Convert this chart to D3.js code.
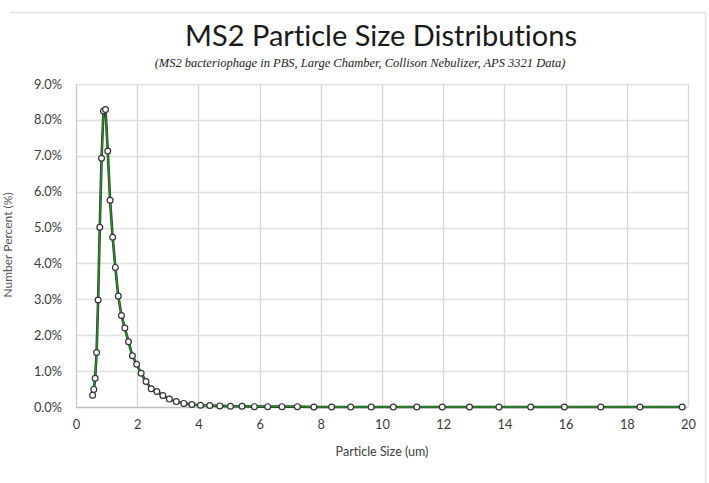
<!DOCTYPE html>
<html><head>
<meta charset="UTF-8">
<script src="https://cdn.jsdelivr.net/npm/d3@7/dist/d3.min.js"></script>
<style>
  body { margin:0; background:#fff; }
  svg { display:block; }
  text { font-variant-ligatures: none; }
  .tick text { font-family: Lato, 'Open Sans', sans-serif; font-size:12.8px; fill:#3a3a3a; }
</style>
</head><body>
<svg id="chart" width="709" height="483"></svg>
<script>
// APS 3321 channel midpoints (um) and number percent (%)
const sizes = [0.542, 0.583, 0.626, 0.673, 0.723, 0.777, 0.835, 0.898, 0.965, 1.037,
  1.114, 1.197, 1.286, 1.382, 1.486, 1.596, 1.715, 1.843, 1.981, 2.129,
  2.288, 2.458, 2.642, 2.839, 3.051, 3.278, 3.523, 3.786, 4.068, 4.371,
  4.698, 5.048, 5.425, 5.829, 6.264, 6.732, 7.234, 7.774, 8.354, 8.977,
  9.647, 10.37, 11.14, 11.97, 12.86, 13.82, 14.86, 15.96, 17.15, 18.43, 19.81];
const numberPct = [0.33, 0.49, 0.80, 1.52, 2.98, 5.01, 6.93, 8.25, 8.29, 7.13,
  5.76, 4.73, 3.89, 3.09, 2.55, 2.20, 1.82, 1.43, 1.19, 0.94,
  0.71, 0.51, 0.43, 0.32, 0.22, 0.15, 0.10, 0.07, 0.05, 0.04,
  0.03, 0.02, 0.02, 0.01, 0.01, 0.01, 0.01, 0.0, 0.0, 0.0,
  0.0, 0.0, 0.0, 0.0, 0.0, 0.0, 0.0, 0.0, 0.0, 0.0, 0.0];
const xTicks = [0, 2, 4, 6, 8, 10, 12, 14, 16, 18, 20];
const yTicks = [0, 1, 2, 3, 4, 5, 6, 7, 8, 9];

const titleText = 'MS2 Particle Size Distributions';
const subtitleText = '(MS2 bacteriophage in PBS, Large Chamber, Collison Nebulizer, APS 3321 Data)';

const svg = d3.select('#chart');
const M = { left: 76, right: 688, top: 84, bottom: 407 };

const x = d3.scaleLinear().domain([0, 20]).range([M.left, M.right]);
const y = d3.scaleLinear().domain([0, 9]).range([M.bottom, M.top]);

// outer chart frame (top + right edge visible)
svg.append('path')
  .attr('d', 'M10,12.5H705.5V483')
  .attr('fill', 'none').attr('stroke', '#e2e2e2').attr('stroke-width', 1.5);

// grid
const grid = svg.append('g');
grid.selectAll('line.h').data(yTicks).join('line')
  .attr('x1', M.left).attr('x2', M.right)
  .attr('y1', d => Math.round(y(d)) + 0.5).attr('y2', d => Math.round(y(d)) + 0.5)
  .attr('stroke', d => d === 0 ? '#bfbfbf' : '#e0e0e0').attr('stroke-width', 1.3);
grid.selectAll('line.v').data(xTicks).join('line')
  .attr('y1', M.top).attr('y2', M.bottom)
  .attr('x1', d => Math.round(x(d)) + 0.5).attr('x2', d => Math.round(x(d)) + 0.5)
  .attr('stroke', d => d === 0 ? '#c8c8c8' : '#d6d6d6').attr('stroke-width', 1.3);

// axes (labels only)
const xAxis = svg.append('g').attr('transform', `translate(0,${M.bottom})`)
  .call(d3.axisBottom(x).tickValues(xTicks).tickSize(0).tickPadding(13).tickFormat(d3.format('d')));
xAxis.select('.domain').remove();
const yAxis = svg.append('g').attr('transform', `translate(${M.left},0)`)
  .call(d3.axisLeft(y).tickValues(yTicks).tickSize(0).tickPadding(14).tickFormat(d => d.toFixed(1) + '%'));
yAxis.select('.domain').remove();

// series
const pts = sizes.map((s, i) => [s, numberPct[i]]);
svg.append('path').datum(pts)
  .attr('fill', 'none').attr('stroke', '#1d3d1d').attr('stroke-width', 2.6)
  .attr('d', d3.line().x(d => x(d[0])).y(d => y(d[1])));
svg.append('path').datum(pts)
  .attr('fill', 'none').attr('stroke', '#2e8b2e').attr('stroke-width', 1.4)
  .attr('d', d3.line().x(d => x(d[0])).y(d => y(d[1])));
svg.append('g').selectAll('circle').data(pts).join('circle')
  .attr('cx', d => x(d[0])).attr('cy', d => y(d[1])).attr('r', 2.9)
  .attr('fill', '#fff').attr('stroke', '#333').attr('stroke-width', 1.2);

// titles
svg.append('text').attr('x', 381).attr('y', 46).attr('text-anchor', 'middle')
  .attr('font-family', 'Lato, sans-serif').attr('font-size', 29).attr('fill', '#1a1a1a')
  .text(titleText);
svg.append('text').attr('x', 360).attr('y', 67).attr('text-anchor', 'middle')
  .attr('font-family', "'Liberation Serif', 'DejaVu Serif', serif").attr('font-style', 'italic')
  .attr('font-size', 12.5).attr('fill', '#222')
  .text(subtitleText);

svg.append('text').attr('x', 382).attr('y', 456).attr('text-anchor', 'middle')
  .attr('font-family', 'Lato, sans-serif').attr('font-size', 12.5).attr('fill', '#404040')
  .text('Particle Size (um)');
svg.append('text').attr('transform', `translate(12,245) rotate(-90)`).attr('text-anchor', 'middle')
  .attr('font-family', 'Lato, sans-serif').attr('font-size', 12).attr('fill', '#555')
  .text('Number Percent (%)');
</script>
</body></html>
